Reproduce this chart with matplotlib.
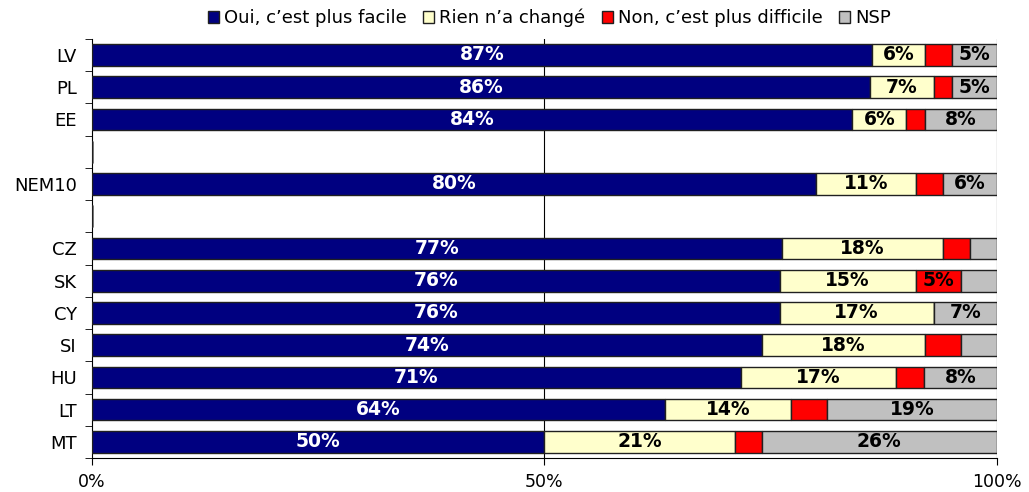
import matplotlib.pyplot as plt
import numpy as np

pays = ["LV", "PL", "EE", "", "NEM10", "", "CZ", "SK", "CY", "SI", "HU", "LT", "MT"]
oui = [87, 86, 84, 0, 80, 0, 77, 76, 76, 74, 71, 64, 50]
rien = [6, 7, 6, 0, 11, 0, 18, 15, 17, 18, 17, 14, 21]
non = [3, 2, 2, 0, 3, 0, 3, 5, 0, 4, 3, 4, 3]
nsp = [5, 5, 8, 0, 6, 0, 3, 4, 7, 4, 8, 19, 26]
series = ["Oui, c\u2019est plus facile", "Rien n\u2019a chang\u00e9",
          "Non, c\u2019est plus difficile", "NSP"]
couleurs = ["#000080", "#FFFFCC", "#FF0000", "#C0C0C0"]
texte = ["white", "black", "black", "black"]

# graphique 100% empile : chaque ligne est ramenee a 100
total = np.array(oui) + np.array(rien) + np.array(non) + np.array(nsp)
total = np.where(total == 0, 1, total)

fig = plt.figure(figsize=(10.29, 4.92), dpi=100)
ax = fig.add_axes([0.0894, 0.069, 0.8795, 0.852])

y = np.arange(len(pays))
gauche = np.zeros(len(pays))
for vals, nom, c, tc in zip([oui, rien, non, nsp], series, couleurs, texte):
    vals = np.array(vals, dtype=float)
    pct = vals / total * 100
    ax.barh(y, pct, left=gauche, height=0.67, color=c,
            edgecolor="#202020", linewidth=1.0, label=nom, zorder=3)
    for i in range(len(pays)):
        if vals[i] >= 5:
            ax.text(gauche[i] + pct[i] / 2, y[i], f"{int(vals[i])}%",
                    ha="center", va="center", color=tc, fontsize=13.5,
                    fontweight="bold", zorder=4)
    gauche = gauche + pct

ax.set_xlim(0, 100)
ax.set_ylim(len(pays) - 0.5, -0.5)
ax.set_yticks(y)
ax.set_yticklabels(pays, fontsize=13)
ax.set_yticks(np.arange(-0.5, len(pays)), minor=True)
ax.tick_params(axis="y", which="major", length=0, pad=11)
ax.tick_params(axis="y", which="minor", length=5, direction="out")
ax.set_xticks([0, 50, 100])
ax.set_xticklabels(["0%", "50%", "100%"], fontsize=12.5)
ax.tick_params(axis="x", length=5, direction="out", pad=6)
ax.axvline(50, color="black", linewidth=0.8, zorder=1)
ax.axvline(100, color="black", linewidth=0.8, zorder=1)
for s in ["top", "right"]:
    ax.spines[s].set_visible(False)

fig.legend(loc="upper center", bbox_to_anchor=(0.534, 1.015), ncol=4, frameon=False,
           fontsize=13, handlelength=0.6, handleheight=0.6, handletextpad=0.3,
           columnspacing=0.9)

fig.savefig("out.png", dpi=100)
